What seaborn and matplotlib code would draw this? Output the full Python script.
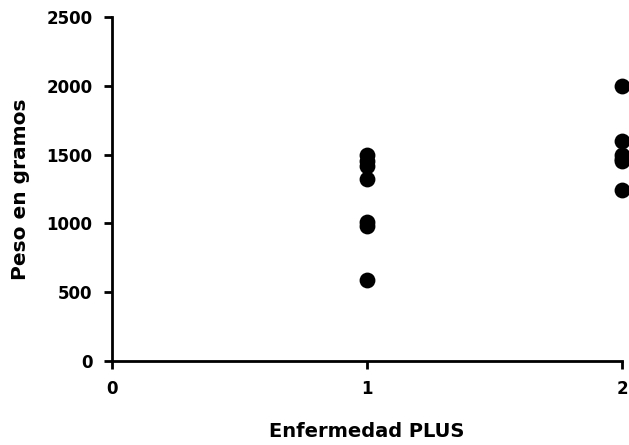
import matplotlib
matplotlib.use("Agg")
import matplotlib.pyplot as plt
import seaborn as sns
import pandas as pd

grupo = [1, 1, 1, 1, 1, 1, 1, 2, 2, 2, 2, 2, 2]
peso = [1500, 1450, 1420, 1320, 1010, 980, 590, 2000, 1600, 1500, 1470, 1450, 1240]
xticks = [0, 1, 2]
yticks = [0, 500, 1000, 1500, 2000, 2500]

df = pd.DataFrame({"Enfermedad PLUS": grupo, "Peso en gramos": peso})

sns.set_style("ticks")
plt.rcParams["font.family"] = ["DejaVu Sans"]
plt.rcParams["text.color"] = "black"
plt.rcParams["axes.labelcolor"] = "black"
plt.rcParams["xtick.color"] = "black"
plt.rcParams["ytick.color"] = "black"

fig = plt.figure(figsize=(6.29, 4.45), dpi=100)
ax = fig.add_axes([0.178, 0.189, 0.811, 0.773])
sns.scatterplot(data=df, x="Enfermedad PLUS", y="Peso en gramos", ax=ax,
                color="black", s=130, edgecolor="black", linewidth=0,
                clip_on=False, zorder=5)
ax.set_xlim(0, 2)
ax.set_ylim(0, 2500)
ax.set_xticks(xticks)
ax.set_yticks(yticks)
ax.set_xticklabels([str(t) for t in xticks], fontsize=12, fontweight="bold", color="black")
ax.set_yticklabels([str(t) for t in yticks], fontsize=12, fontweight="bold", color="black")
ax.set_xlabel("Enfermedad PLUS", fontsize=14, fontweight="bold", labelpad=17, color="black")
ax.set_ylabel("Peso en gramos", fontsize=14.5, fontweight="bold", labelpad=12, color="black")
for s in ["top", "right"]:
    ax.spines[s].set_visible(False)
for s in ["left", "bottom"]:
    ax.spines[s].set_linewidth(2)
    ax.spines[s].set_color("black")
ax.tick_params(axis="both", width=2, length=6, color="black", pad=8)
fig.savefig("out.png", dpi=100)
